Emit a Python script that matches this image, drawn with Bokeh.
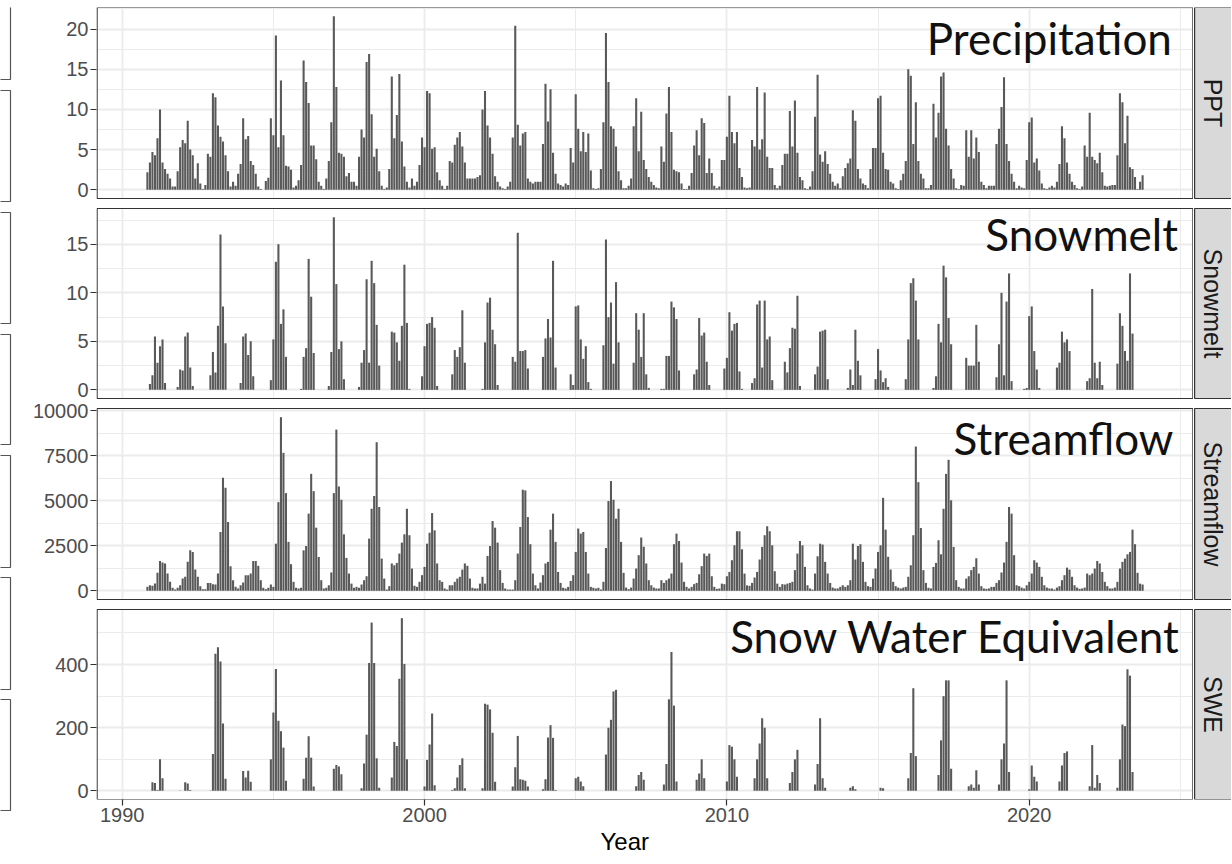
import numpy as np
from bokeh.plotting import figure
from bokeh.layouts import row
from bokeh.models import Range1d, FixedTicker, ColumnDataSource, Label, Title
from bokeh.embed import file_html
from bokeh.resources import INLINE

# ---------------- data (water years Oct..Sep, monthly) ----------------
water_years = list(range(1991, 2024))
wy_months = [10, 11, 12, 1, 2, 3, 4, 5, 6, 7, 8, 9]

ppt = [
    [2.2, 3.4, 4.7, 4.3, 6.4, 10.0, 3.4, 2.6, 2.0, 1.4, 0.4, 0.4],
    [2.3, 5.3, 6.2, 5.8, 8.6, 5.0, 4.3, 1.4, 3.3, 0.8, 0.1, 0.6],
    [4.5, 4.1, 12.0, 11.5, 8.0, 6.6, 6.0, 4.3, 2.3, 0.4, 1.0, 0.5],
    [2.0, 3.2, 8.9, 6.3, 6.7, 3.6, 3.1, 2.0, 0.4, 0.1, 0.0, 1.1],
    [1.5, 8.9, 6.8, 19.2, 5.3, 13.6, 6.8, 3.0, 2.9, 2.5, 0.3, 0.5],
    [1.2, 3.1, 16.1, 13.4, 10.8, 5.5, 5.5, 3.8, 1.0, 0.5, 0.1, 1.4],
    [3.6, 8.4, 21.6, 12.8, 4.6, 4.5, 4.1, 1.7, 2.1, 1.0, 1.0, 0.5],
    [4.1, 7.5, 6.5, 15.9, 16.9, 9.4, 4.1, 5.1, 2.3, 0.5, 0.1, 0.3],
    [2.6, 14.1, 6.4, 9.3, 14.4, 6.0, 2.9, 1.0, 0.3, 1.4, 0.5, 1.0],
    [3.1, 6.5, 5.3, 12.3, 12.0, 5.1, 5.3, 2.2, 1.2, 0.5, 0.1, 0.5],
    [3.6, 3.4, 5.6, 6.5, 7.2, 5.4, 3.4, 1.4, 1.4, 1.4, 1.4, 1.6],
    [1.8, 10.0, 12.3, 8.0, 6.5, 4.5, 1.7, 1.0, 0.4, 0.2, 0.1, 0.4],
    [1.0, 6.5, 20.4, 8.1, 5.5, 7.0, 7.2, 1.4, 1.0, 0.8, 1.0, 1.0],
    [1.0, 5.7, 13.2, 8.5, 12.5, 4.6, 2.0, 0.8, 0.6, 0.4, 0.8, 0.6],
    [5.2, 3.4, 11.9, 7.6, 4.8, 7.2, 4.7, 7.0, 2.4, 0.2, 0.1, 0.2],
    [2.6, 8.4, 19.5, 13.4, 7.9, 7.6, 5.4, 2.3, 1.2, 0.2, 0.2, 0.5],
    [1.4, 7.9, 11.4, 4.8, 9.7, 3.7, 2.6, 1.6, 1.0, 0.6, 0.3, 0.2],
    [5.4, 3.5, 9.5, 12.8, 7.2, 2.5, 2.3, 2.2, 0.8, 0.1, 0.1, 0.5],
    [2.1, 5.5, 7.4, 4.3, 8.9, 8.3, 2.1, 3.9, 2.1, 0.5, 0.2, 0.4],
    [3.7, 3.7, 6.6, 11.7, 7.2, 5.8, 7.2, 2.7, 1.6, 0.3, 0.2, 0.3],
    [6.2, 5.4, 12.8, 5.0, 6.3, 12.1, 4.1, 2.7, 2.7, 0.6, 0.2, 0.5],
    [3.1, 4.5, 4.5, 9.8, 5.4, 11.1, 4.6, 1.6, 1.2, 0.2, 0.1, 0.4],
    [2.3, 9.1, 14.3, 4.4, 3.5, 4.8, 3.2, 2.0, 1.0, 0.5, 0.8, 0.2],
    [1.7, 2.7, 3.3, 3.9, 9.9, 8.6, 2.6, 1.4, 0.8, 0.6, 0.2, 2.6],
    [5.2, 5.2, 11.4, 11.7, 4.6, 2.6, 2.5, 1.0, 0.8, 0.2, 0.1, 1.2],
    [2.0, 3.6, 15.0, 14.2, 5.7, 10.9, 3.6, 2.0, 1.4, 0.2, 0.2, 0.6],
    [10.7, 6.5, 9.6, 14.1, 14.6, 7.6, 5.5, 2.6, 1.4, 0.2, 0.1, 0.6],
    [0.5, 7.4, 4.1, 7.4, 3.9, 6.5, 4.7, 1.0, 0.6, 0.2, 0.5, 0.5],
    [0.5, 5.7, 7.6, 10.3, 14.0, 5.7, 3.6, 2.0, 1.0, 0.2, 0.5, 0.3],
    [0.2, 3.7, 8.4, 9.0, 3.4, 3.9, 2.4, 0.8, 0.2, 0.1, 0.3, 0.5],
    [0.3, 1.0, 3.2, 7.9, 6.4, 3.4, 2.0, 1.0, 0.6, 0.2, 0.1, 0.4],
    [5.5, 4.1, 9.6, 4.1, 3.7, 3.3, 4.6, 2.2, 0.5, 0.4, 0.5, 0.6],
    [0.6, 4.3, 12.0, 10.9, 5.8, 9.2, 2.8, 2.6, 1.6, 0.1, 1.0, 1.8],
]

snowmelt = [
    [0, 0.6, 1.5, 5.5, 2.8, 4.5, 5.2, 0.7, 0, 0, 0, 0],
    [0.3, 2.1, 2.0, 5.5, 5.9, 2.3, 0.4, 0, 0, 0, 0, 0],
    [0, 1.5, 3.9, 1.8, 6.6, 16.0, 8.6, 4.8, 0, 0, 0, 0],
    [0, 0.7, 5.5, 5.8, 3.6, 5.0, 1.4, 0, 0, 0, 0, 0],
    [0, 1.0, 5.2, 13.2, 15.0, 6.8, 8.3, 3.4, 0, 0, 0, 0],
    [0, 0.1, 3.4, 4.3, 13.5, 9.6, 3.8, 0, 0, 0, 0, 0],
    [0.4, 3.9, 17.8, 10.9, 4.2, 5.0, 1.1, 0, 0, 0, 0, 0],
    [0.3, 2.8, 4.1, 11.4, 2.8, 13.3, 11.0, 6.7, 2.5, 0, 0, 0],
    [0, 6.0, 5.9, 4.9, 3.0, 6.6, 12.9, 6.9, 0.1, 0, 0, 0],
    [0, 1.4, 4.5, 6.8, 6.9, 7.5, 6.4, 0.4, 0, 0, 0, 0],
    [0, 1.6, 4.1, 3.4, 4.4, 8.2, 2.8, 0, 0, 0, 0, 0],
    [0, 0.1, 4.9, 9.0, 9.5, 6.2, 4.7, 0.5, 0, 0, 0, 0],
    [0, 3.4, 2.9, 16.2, 4.0, 4.0, 4.1, 2.2, 0, 0, 0, 0],
    [0, 3.4, 5.3, 7.3, 5.4, 13.3, 2.3, 0, 0, 0, 0, 0],
    [1.6, 0.5, 8.6, 8.7, 5.2, 3.2, 4.5, 0.8, 0.1, 0, 0, 0],
    [0, 4.6, 15.5, 7.5, 9.0, 2.7, 11.1, 4.9, 0, 0, 0, 0],
    [0, 2.8, 7.9, 6.2, 3.4, 7.9, 1.6, 0.2, 0, 0, 0, 0],
    [0.1, 0.1, 3.5, 3.5, 9.1, 8.5, 7.3, 2.0, 0, 0, 0, 0],
    [0, 1.6, 2.1, 7.4, 5.6, 5.9, 2.9, 0.5, 0, 0, 0, 0],
    [0, 2.2, 3.3, 8.0, 6.1, 6.8, 6.9, 1.9, 0.1, 0, 0, 0],
    [0.7, 1.2, 8.8, 9.2, 2.3, 9.2, 5.2, 5.5, 1.0, 0, 0, 0],
    [0, 2.9, 1.8, 4.3, 6.4, 6.3, 9.7, 0.4, 0, 0, 0, 0],
    [0, 1.6, 2.4, 6.0, 6.1, 6.2, 1.1, 0, 0, 0, 0, 0],
    [0, 0, 0.2, 2.1, 0.5, 6.2, 3.0, 1.5, 0, 0, 0, 0],
    [0, 1.1, 4.2, 2.0, 0.8, 1.2, 0.3, 0, 0, 0, 0, 0],
    [0, 1.1, 5.2, 11.0, 11.5, 9.2, 5.2, 0, 0, 0, 0, 0],
    [0.2, 1.4, 6.8, 4.9, 12.8, 11.6, 7.4, 4.7, 0, 0, 0, 0],
    [0, 3.3, 2.5, 2.5, 2.5, 6.7, 2.9, 0, 0, 0, 0, 0],
    [0, 1.3, 4.7, 10.0, 1.5, 9.1, 12.0, 0.9, 0, 0, 0, 0],
    [0.1, 0.2, 7.6, 8.6, 4.0, 2.1, 0.2, 0, 0, 0, 0, 0],
    [0, 2.3, 2.8, 6.0, 4.9, 5.2, 4.0, 0, 0, 0, 0, 0],
    [0, 0.9, 1.2, 10.4, 2.8, 1.2, 2.9, 0.5, 0, 0, 0, 0],
    [0, 2.7, 7.9, 6.6, 4.0, 3.0, 12.0, 5.8, 0, 0, 0, 0],
]

streamflow = [
    [220, 310, 280, 400, 1000, 1660, 1570, 1520, 960, 500, 170, 70],
    [170, 310, 680, 780, 1610, 2250, 2160, 1180, 780, 260, 90, 90],
    [440, 440, 370, 350, 960, 3270, 6280, 5730, 3830, 1370, 590, 220],
    [130, 310, 460, 870, 870, 960, 1660, 1660, 1390, 590, 170, 90],
    [170, 350, 220, 2620, 4930, 9650, 7670, 5430, 2720, 1480, 500, 170],
    [130, 170, 2250, 2490, 4290, 6500, 5540, 3510, 1880, 590, 130, 170],
    [310, 1020, 5430, 8960, 5800, 5060, 3140, 1830, 960, 400, 170, 220],
    [170, 350, 590, 810, 2900, 4560, 5270, 8260, 4660, 1790, 680, 70],
    [260, 1520, 1420, 1550, 2070, 2680, 3140, 4560, 3090, 1240, 280, 220],
    [500, 870, 1330, 2620, 3230, 4320, 3360, 1520, 590, 500, 130, 70],
    [310, 310, 500, 680, 780, 1180, 1520, 1390, 680, 170, 130, 130],
    [400, 780, 400, 1940, 2490, 3880, 3510, 2680, 1150, 440, 130, 70],
    [70, 70, 590, 2070, 3550, 5620, 5580, 4100, 2590, 960, 310, 130],
    [460, 870, 1520, 1610, 3400, 4290, 2720, 1050, 440, 170, 130, 220],
    [550, 870, 2160, 3460, 3180, 3270, 2160, 960, 220, 170, 130, 170],
    [70, 500, 2380, 4990, 6100, 5060, 4010, 4560, 2720, 1000, 180, 90],
    [180, 680, 1240, 1980, 2960, 2450, 1520, 590, 310, 180, 130, 130],
    [590, 440, 590, 680, 960, 2590, 3180, 2770, 1570, 500, 220, 130],
    [220, 370, 440, 920, 1370, 2070, 1940, 2070, 810, 220, 110, 130],
    [400, 370, 810, 1050, 1700, 2530, 3310, 3310, 2310, 960, 300, 280],
    [440, 740, 1050, 1740, 2440, 3090, 3590, 3310, 2530, 1090, 400, 220],
    [370, 350, 400, 440, 500, 1150, 2070, 2770, 2530, 1330, 310, 130],
    [70, 960, 1920, 2620, 2570, 1610, 960, 440, 180, 130, 130, 220],
    [310, 220, 310, 590, 2620, 1740, 2490, 2590, 1610, 500, 260, 220],
    [680, 1240, 2160, 2530, 5170, 3400, 1890, 1180, 500, 260, 180, 130],
    [180, 220, 780, 1420, 3090, 8020, 6040, 3490, 1150, 440, 170, 130],
    [1330, 1550, 2810, 2030, 4560, 6500, 7280, 5030, 2440, 590, 220, 130],
    [130, 680, 810, 1150, 1330, 1810, 960, 260, 130, 110, 130, 220],
    [220, 440, 590, 1020, 1570, 2720, 4660, 4290, 1980, 310, 260, 180],
    [130, 310, 500, 960, 1700, 1570, 1330, 780, 310, 180, 130, 130],
    [70, 180, 260, 590, 870, 1290, 1180, 780, 310, 180, 110, 130],
    [180, 960, 870, 960, 1240, 1660, 1520, 1050, 500, 260, 130, 130],
    [180, 500, 1240, 1610, 1790, 2030, 2160, 3400, 2590, 1000, 400, 350],
]

swe = [
    [0, 0, 27, 25, 3, 100, 40, 0, 0, 0, 0, 0],
    [0, 1, 0, 27, 23, 3, 0, 0, 0, 0, 0, 0],
    [0, 1, 117, 434, 455, 410, 213, 38, 0, 0, 0, 0],
    [0, 0, 63, 42, 64, 29, 0, 0, 0, 0, 0, 0],
    [0, 100, 248, 386, 222, 189, 137, 32, 0, 0, 0, 0],
    [0, 0, 38, 105, 173, 105, 14, 0, 0, 0, 0, 0],
    [0, 0, 70, 82, 77, 53, 0, 0, 0, 0, 0, 0],
    [0, 8, 87, 178, 405, 533, 405, 103, 10, 0, 0, 0],
    [0, 42, 155, 142, 355, 547, 402, 100, 0, 0, 0, 0],
    [0, 0, 14, 98, 147, 245, 18, 0, 0, 0, 0, 0],
    [0, 3, 8, 42, 82, 103, 8, 0, 0, 0, 0, 0],
    [0, 8, 276, 273, 258, 184, 29, 0, 0, 0, 0, 0],
    [0, 14, 75, 174, 37, 35, 32, 14, 0, 0, 0, 0],
    [0, 5, 37, 169, 208, 168, 3, 0, 0, 0, 0, 0],
    [0, 0, 40, 45, 30, 15, 0, 0, 0, 0, 0, 0],
    [0, 0, 115, 200, 225, 315, 320, 0, 0, 0, 0, 0],
    [0, 0, 15, 50, 60, 35, 0, 0, 0, 0, 0, 0],
    [0, 20, 85, 290, 440, 270, 30, 0, 0, 0, 0, 0],
    [0, 0, 35, 55, 100, 40, 0, 0, 0, 0, 0, 0],
    [0, 0, 30, 145, 140, 100, 45, 0, 0, 0, 0, 0],
    [0, 40, 100, 150, 230, 200, 40, 0, 0, 0, 0, 0],
    [0, 0, 0, 25, 60, 100, 130, 0, 0, 0, 0, 0],
    [0, 20, 85, 230, 40, 10, 0, 0, 0, 0, 0, 0],
    [0, 0, 0, 10, 15, 5, 0, 0, 0, 0, 0, 0],
    [0, 0, 0, 10, 8, 0, 0, 0, 0, 0, 0, 0],
    [0, 0, 40, 120, 325, 110, 0, 0, 0, 0, 0, 0],
    [0, 0, 50, 160, 300, 350, 350, 70, 0, 0, 0, 0],
    [0, 0, 15, 20, 10, 65, 20, 0, 0, 0, 0, 0],
    [0, 0, 20, 100, 150, 350, 60, 0, 0, 0, 0, 0],
    [0, 0, 5, 80, 45, 30, 0, 0, 0, 0, 0, 0],
    [0, 0, 30, 80, 120, 125, 0, 0, 0, 0, 0, 0],
    [0, 0, 15, 145, 10, 50, 25, 0, 0, 0, 0, 0],
    [0, 10, 100, 210, 205, 385, 365, 60, 0, 0, 0, 0],
]

panel_titles = ["Precipitation", "Snowmelt", "Streamflow", "Snow Water Equivalent"]
strip_labels = ["PPT", "Snowmelt", "Streamflow", "SWE"]
y_ticks = [[0, 5, 10, 15, 20], [0, 5, 10, 15], [0, 2500, 5000, 7500, 10000], [0, 200, 400]]
y_minor = [[2.5, 7.5, 12.5, 17.5, 22.5], [2.5, 7.5, 12.5, 17.5], [1250, 3750, 6250, 8750], [100, 300, 500]]
x_ticks = [1990, 2000, 2010, 2020]
x_minor = [1995, 2005, 2015, 2025]
x_title = "Year"

# clipped panel edges of a neighbouring figure seen at the far left (page px)
left_box_tops = [-10, 83, 205, 327, 448, 570, 692]
left_box_bottoms = [72, 194, 316, 437, 560, 682, 803]

# ---------------- layout constants (page pixels) ----------------
LEFT_DECO = 12
FRAME_W = 1097
LEFT = 96 - LEFT_DECO
STRIP_W = 38
TOP, BOT = 7, 799                      # stacked panel area
panel_top = [7, 208, 408, 609]
panel_bot = [198, 398, 599, 799]
BOTTOM_MARGIN = 56
TOTAL_H = BOT + BOTTOM_MARGIN
title_baseline = [37, 233, 437, 635]
title_right = [2024.72, 2024.92, 2024.77, 2025.03]
year_left_px = 600                     # left edge of the x title on the page

GRID = "#EBEBEB"
BORDER = "#333333"
TICKTXT = "#4D4D4D"

# ---------------- build ----------------
dates = []
for wy in water_years:
    for m in wy_months:
        yr = wy - 1 if m >= 10 else wy
        dates.append(yr + m / 12.0)          # end-of-month date
dates = np.array(dates)
bar_w = 0.9 * 28 / 365.25
x_lo, x_hi = dates.min() - bar_w / 2, dates.max() + bar_w / 2
pad = 0.05 * (x_hi - x_lo)
X0, X1 = x_lo - pad, x_hi + pad

p = figure(frame_width=FRAME_W, frame_height=BOT - TOP,
           x_range=Range1d(X0, X1), y_range=Range1d(BOT, TOP),
           output_backend="svg", toolbar_location=None,
           min_border_left=LEFT, min_border_right=0,
           min_border_top=TOP, min_border_bottom=BOTTOM_MARGIN)
p.background_fill_color = "white"
p.border_fill_color = "white"
p.outline_line_color = None

series = [ppt, snowmelt, streamflow, swe]
major_pos, minor_pos, overrides = [], [], {}
for k in range(4):
    vals = np.array(series[k], dtype=float).ravel()
    vmax = vals.max()
    ylo, yhi = -0.05 * vmax, vmax * 1.05
    t, b = panel_top[k], panel_bot[k]
    s = (yhi - ylo) / (b - t)
    name = "panel%d" % k
    p.extra_y_ranges[name] = Range1d(ylo - (BOT - b) * s, yhi + (t - TOP) * s)

    def pix(v):
        return round(b - (v - ylo) / s, 2)
    for v in y_ticks[k]:
        pos = pix(v)
        major_pos.append(pos)
        overrides[pos] = str(v)
    for v in y_minor[k]:
        if ylo < v < yhi:
            minor_pos.append(pix(v))

    src = ColumnDataSource(dict(x=dates, top=vals))
    p.vbar(x="x", top="top", bottom=0, width=bar_w, source=src,
           fill_color="#595959", line_color=None, y_range_name=name)

# white gaps between stacked panels (hide vertical grid lines there)
p.quad(left=X0, right=X1, top=panel_bot[:-1], bottom=panel_top[1:],
       fill_color="white", line_color=None)
# panel borders
eps = 0.6 * (X1 - X0) / FRAME_W
p.quad(left=X0 + eps, right=X1 - eps, top=panel_top, bottom=panel_bot,
       fill_color=None, line_color=BORDER, line_width=1.2)

yt = FixedTicker(ticks=major_pos, minor_ticks=minor_pos)
p.yaxis.ticker = yt
p.ygrid.ticker = yt
p.yaxis.major_label_overrides = overrides
p.yaxis.axis_line_color = None
p.yaxis.major_tick_line_color = BORDER
p.yaxis.major_tick_line_width = 1.2
p.yaxis.major_tick_out = 6
p.yaxis.major_tick_in = 0
p.yaxis.minor_tick_line_color = None
p.yaxis.major_label_text_font = "Liberation Sans"
p.yaxis.major_label_text_font_size = "20px"
p.yaxis.major_label_text_color = TICKTXT
p.yaxis.major_label_standoff = 2

xt = FixedTicker(ticks=x_ticks, minor_ticks=x_minor)
p.xaxis.ticker = xt
p.xgrid.ticker = xt
p.xaxis.axis_line_color = None
p.xaxis.major_tick_line_color = BORDER
p.xaxis.major_tick_line_width = 1.2
p.xaxis.major_tick_out = 6
p.xaxis.major_tick_in = 0
p.xaxis.minor_tick_line_color = None
p.xaxis.major_label_text_font = "Liberation Sans"
p.xaxis.major_label_text_font_size = "20px"
p.xaxis.major_label_text_color = TICKTXT
p.xaxis.major_label_standoff = 2

for grid in [p.xgrid, p.ygrid]:
    grid.grid_line_color = GRID
    grid.grid_line_width = 1.8
    grid.minor_grid_line_color = GRID
    grid.minor_grid_line_width = 1.0

for k in range(4):
    p.add_layout(Label(x=title_right[k], y=title_baseline[k], text=panel_titles[k],
                       text_align="right", text_baseline="alphabetic",
                       text_font="Lato", text_font_size="44px",
                       text_color="#111111"))

# x axis title (below the axis, positioned like the reference)
p.add_layout(Title(text=x_title, align="left", offset=year_left_px - 96,
                   text_font="Liberation Sans", text_font_size="24px",
                   text_font_style="normal", text_color="black", standoff=3),
             "below")

# facet strips on the right
st = figure(frame_width=STRIP_W, frame_height=BOT - TOP,
            x_range=Range1d(-0.03, 1), y_range=Range1d(BOT, TOP),
            output_backend="svg", toolbar_location=None,
            x_axis_location=None, y_axis_location=None,
            min_border_left=0, min_border_right=0,
            min_border_top=TOP, min_border_bottom=BOTTOM_MARGIN)
st.outline_line_color = None
st.grid.visible = False
st.background_fill_color = "white"
st.border_fill_color = "white"
st.quad(left=0, right=2, top=panel_top, bottom=panel_bot, fill_color="#D9D9D9",
        line_color=BORDER, line_width=1.2)
for k in range(4):
    st.add_layout(Label(x=0.5, y=(panel_top[k] + panel_bot[k]) / 2, text=strip_labels[k],
                        angle=-np.pi / 2, text_align="center", text_baseline="middle",
                        text_font="Liberation Sans", text_font_size="25px",
                        text_color="#1A1A1A"))

# thin decorative column with the clipped neighbouring panels
d = figure(frame_width=LEFT_DECO, frame_height=TOTAL_H,
           x_range=Range1d(0, LEFT_DECO), y_range=Range1d(TOTAL_H, 0),
           output_backend="svg", toolbar_location=None,
           x_axis_location=None, y_axis_location=None,
           min_border_left=0, min_border_right=0, min_border_top=0, min_border_bottom=0)
d.outline_line_color = None
d.grid.visible = False
d.background_fill_color = "white"
d.border_fill_color = "white"
d.quad(left=-20, right=10, top=left_box_tops, bottom=left_box_bottoms,
       fill_color="white", line_color="#555555", line_width=1.2)

layout = row(d, p, st, spacing=0)
open("out.html", "w").write(file_html(layout, INLINE))
